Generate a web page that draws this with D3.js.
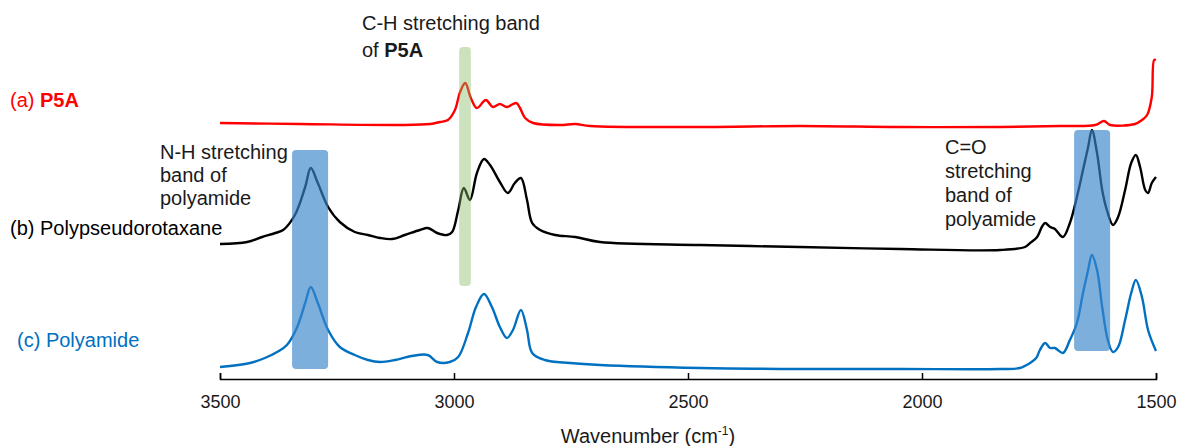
<!DOCTYPE html>
<html>
<head>
<meta charset="utf-8">
<script src="https://cdn.jsdelivr.net/npm/d3@7"></script>
<style>
  html, body { margin: 0; padding: 0; background: #fff; }
  svg { display: block; font-family: "Liberation Sans", Arial, sans-serif; }
</style>
</head>
<body>
<svg id="chart" width="1177" height="446"></svg>
<script>
// ---- Data (wavenumber in cm-1, absorbance in arbitrary offset units) ----
const seriesNames = ["(a) P5A", "(b) Polypseudorotaxane", "(c) Polyamide"];

const p5aWn =  [3500,3329,3115,3051,3030,3013,2998,2987,2976,2964,2951,2932,2917,2902,2887,2867,2859,2848,2831,2773,2741,2709,2474,2261,2047,1833,1705,1630,1611,1598,1545,1530,1519,1509,1504,1500];
const p5aAbs = [2.56,2.55,2.54,2.55,2.57,2.59,2.69,2.87,2.96,2.81,2.71,2.79,2.72,2.75,2.72,2.76,2.71,2.61,2.56,2.54,2.55,2.53,2.52,2.53,2.52,2.52,2.53,2.54,2.58,2.54,2.55,2.59,2.64,2.82,3.19,3.19];

const pprWn =  [3500,3442,3410,3382,3365,3340,3318,3306,3291,3269,3244,3212,3184,3158,3132,3105,3073,3056,3036,3015,3004,2991,2979,2966,2951,2936,2923,2902,2885,2870,2857,2844,2833,2816,2784,2741,2688,2474,2261,2047,1833,1780,1769,1754,1744,1737,1726,1716,1699,1684,1669,1656,1645,1637,1626,1615,1605,1592,1581,1566,1553,1543,1534,1523,1517,1509,1500];
const pprAbs = [1.35,1.37,1.42,1.46,1.49,1.64,1.92,2.11,1.96,1.72,1.57,1.47,1.44,1.41,1.40,1.44,1.49,1.51,1.46,1.44,1.47,1.69,1.91,1.79,2.06,2.20,2.14,1.97,1.86,1.96,2.01,1.79,1.56,1.49,1.44,1.42,1.37,1.34,1.32,1.30,1.29,1.32,1.36,1.42,1.52,1.56,1.52,1.50,1.42,1.56,1.82,2.09,2.32,2.49,2.26,1.89,1.69,1.54,1.62,1.89,2.16,2.24,2.12,1.89,1.86,1.96,2.02];

const paWn =  [3500,3436,3404,3378,3357,3335,3318,3306,3291,3269,3244,3212,3184,3158,3126,3090,3056,3036,3009,2991,2970,2953,2936,2919,2902,2887,2874,2857,2844,2833,2806,2752,2688,2474,2261,2047,1833,1791,1769,1756,1748,1737,1726,1716,1699,1684,1669,1656,1645,1637,1626,1615,1603,1592,1581,1566,1553,1543,1530,1517,1500];
const paAbs = [0.12,0.16,0.21,0.27,0.34,0.52,0.76,0.92,0.76,0.49,0.32,0.24,0.19,0.17,0.19,0.23,0.24,0.17,0.17,0.22,0.46,0.72,0.85,0.72,0.52,0.41,0.49,0.69,0.49,0.26,0.19,0.16,0.14,0.11,0.10,0.10,0.10,0.11,0.16,0.21,0.29,0.36,0.31,0.31,0.26,0.39,0.56,0.86,1.09,1.24,1.09,0.72,0.39,0.27,0.32,0.59,0.86,0.99,0.82,0.49,0.28];

const xTicks = [3500, 3000, 2500, 2000, 1500];

// Highlight bands: [wnStart, wnEnd, absBottom, absTop]
const bandNH  = [3346, 3269, 0.10, 2.29];
const bandCH  = [2989, 2964, 0.93, 3.32];
const bandCO  = [1675, 1598, 0.28, 2.49];

// ---- Drawing ----
const svg = d3.select("#chart");
const x = d3.scaleLinear().domain([3500, 1500]).range([220, 1156]);
const y = d3.scaleLinear().domain([0, 3.79]).range([379, 0]);

const line = d3.line()
  .x(d => x(d[0])).y(d => y(d[1]))
  .curve(d3.curveCatmullRom.alpha(0.5));

const series = [
  {wn: p5aWn, abs: p5aAbs, color: "#ff0000"},
  {wn: pprWn, abs: pprAbs, color: "#000000"},
  {wn: paWn,  abs: paAbs,  color: "#0070c0"}
];

series.forEach(s => {
  svg.append("path")
    .datum(s.wn.map((w, i) => [w, s.abs[i]]))
    .attr("d", line)
    .attr("fill", "none")
    .attr("stroke", s.color)
    .attr("stroke-width", 2.4)
    .attr("stroke-linejoin", "round");
});

function band(b, fill, op) {
  svg.append("rect")
    .attr("x", x(b[0])).attr("width", x(b[1]) - x(b[0]))
    .attr("y", y(b[3])).attr("height", y(b[2]) - y(b[3]))
    .attr("rx", 4).attr("ry", 4)
    .attr("fill", fill).attr("fill-opacity", op);
}
band(bandNH, "#3a86cc", 0.66);
band(bandCO, "#3a86cc", 0.66);
band(bandCH, "#85bb64", 0.42);

// Axis
const axis = d3.axisBottom(x).tickValues(xTicks).tickFormat(d3.format("d"))
  .tickSizeInner(-6).tickSizeOuter(-6).tickPadding(16);
const gx = svg.append("g").attr("transform", "translate(0,379)").call(axis);
gx.select(".domain").attr("stroke", "#000").attr("stroke-width", 1.5);
gx.selectAll(".tick line").attr("stroke", "#000").attr("stroke-width", 1.5);
gx.selectAll(".tick text").attr("font-size", 18).attr("fill", "#1a1a1a")
  .attr("font-family", "'Liberation Sans', Arial, sans-serif");

const title = svg.append("text").attr("x", 648).attr("y", 443)
  .attr("text-anchor", "middle").attr("font-size", 20).attr("fill", "#1a1a1a");
title.append("tspan").text("Wavenumber (cm");
title.append("tspan").attr("font-size", 12).attr("dy", -8).text("-1");
title.append("tspan").attr("dy", 8).text(")");

// Series labels
function seriesLabel(xp, yp, prefix, name, color, bold) {
  const t = svg.append("text").attr("x", xp).attr("y", yp).attr("font-size", 20).attr("fill", color);
  t.append("tspan").text(prefix + " ");
  t.append("tspan").attr("font-weight", bold ? "bold" : "normal").text(name);
}
seriesLabel(10, 107, "(a)", "P5A", "#ff0000", true);
seriesLabel(10, 235, "(b)", "Polypseudorotaxane", "#000000", false);
seriesLabel(17, 347, "(c)", "Polyamide", "#0070c0", false);

// Annotations
function multiline(xp, yp, lines, lh) {
  lines.forEach((ln, i) => {
    const t = svg.append("text").attr("x", xp).attr("y", yp + i * lh).attr("font-size", 20).attr("fill", "#1a1a1a");
    ln.forEach(part => t.append("tspan").attr("font-weight", part[1] ? "bold" : "normal").text(part[0]));
  });
}
multiline(362, 30, [[["C-H stretching band", false]], [["of ", false], ["P5A", true]]], 27);
multiline(160, 159, [[["N-H stretching", false]], [["band of", false]], [["polyamide", false]]], 23);
multiline(945, 154, [[["C=O", false]], [["stretching", false]], [["band of", false]], [["polyamide", false]]], 24);
</script>
</body>
</html>
